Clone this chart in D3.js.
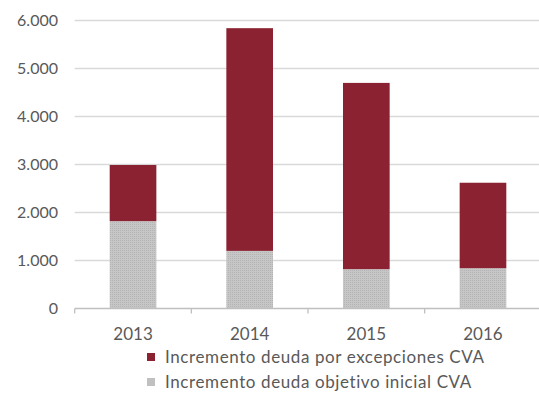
<!DOCTYPE html>
<html>
<head>
<meta charset="utf-8">
<script src="https://cdn.jsdelivr.net/npm/d3@7"></script>
<style>
  body { margin: 0; background: #fff; }
  text { font-family: Lato, "DejaVu Sans", sans-serif; fill: #595959; }
</style>
</head>
<body>
<svg id="chart" width="539" height="409"></svg>
<script>
// chart data
var years = ["2013", "2014", "2015", "2016"];
var objetivoInicial = [1820, 1200, 820, 840];      // gray, bottom
var excepciones = [1170, 4640, 3880, 1780];        // red, top
var yTicks = [0, 1000, 2000, 3000, 4000, 5000, 6000];
var seriesNames = ["Incremento deuda por excepciones CVA", "Incremento deuda objetivo inicial CVA"];

var red = "#8b2231", gray = "#c0c0c0";

var svg = d3.select("#chart");

// dotted texture for the gray series
var pat = svg.append("defs").append("pattern")
    .attr("id", "dots").attr("patternUnits", "userSpaceOnUse")
    .attr("width", 2).attr("height", 2);
pat.append("rect").attr("width", 2).attr("height", 2).attr("fill", "#c6c6c6");
pat.append("rect").attr("width", 1).attr("height", 1).attr("fill", "#b4b4b4");

var x = d3.scaleBand().domain(years).range([74.7, 541.3]).paddingInner(0.6).paddingOuter(0.3);
var y = d3.scaleLinear().domain([0, 6000]).range([308.5, 20.5]);

var fmt = function (d) { return d3.format(",")(d).replace(/,/g, "."); };

// gridlines
svg.append("g").selectAll("line")
    .data(yTicks.filter(d => d > 0))
    .enter().append("line")
    .attr("x1", 74.7).attr("x2", 539)
    .attr("y1", d => y(d)).attr("y2", d => y(d))
    .attr("stroke", "#d9d9d9").attr("stroke-width", 1.3);

// y labels
svg.append("g").selectAll("text")
    .data(yTicks)
    .enter().append("text")
    .attr("x", 58).attr("y", d => y(d))
    .attr("dy", "0.35em")
    .attr("text-anchor", "end")
    .style("font-size", "16px")
    .text(fmt);

// stacked bars
var rows = years.map((yr, i) => ({ year: yr, base: objetivoInicial[i], extra: excepciones[i] }));

svg.append("g").selectAll("rect")
    .data(rows)
    .enter().append("rect")
    .attr("x", d => x(d.year)).attr("width", x.bandwidth())
    .attr("y", d => y(d.base)).attr("height", d => y(0) - y(d.base))
    .attr("fill", "url(#dots)");

svg.append("g").selectAll("rect")
    .data(rows)
    .enter().append("rect")
    .attr("x", d => x(d.year)).attr("width", x.bandwidth())
    .attr("y", d => y(d.base + d.extra)).attr("height", d => y(d.base) - y(d.base + d.extra))
    .attr("fill", red);

// x axis
var xAxis = svg.append("g").attr("transform", "translate(0," + y(0) + ")");
xAxis.append("line").attr("x1", 74.7).attr("x2", 539).attr("stroke", "#bfbfbf").attr("stroke-width", 1.3);
xAxis.selectAll("line.tick")
    .data(d3.range(years.length + 1))
    .enter().append("line")
    .attr("class", "tick")
    .attr("x1", i => 74.7 + i * (541.3 - 74.7) / years.length)
    .attr("x2", i => 74.7 + i * (541.3 - 74.7) / years.length)
    .attr("y1", 0).attr("y2", 5)
    .attr("stroke", "#bfbfbf").attr("stroke-width", 1.3);
xAxis.selectAll("text")
    .data(years)
    .enter().append("text")
    .attr("x", d => x(d) + x.bandwidth() / 2)
    .attr("y", 31)
    .attr("text-anchor", "middle")
    .style("font-size", "17px")
    .text(d => d);

// legend
var legend = svg.append("g");
[red, gray].forEach(function (c, i) {
    var ly = 357 + i * 25;
    legend.append("rect").attr("x", 147).attr("y", ly - 4).attr("width", 8).attr("height", 8).attr("fill", c);
    legend.append("text").attr("x", 165).attr("y", ly).attr("dy", "0.35em")
        .style("font-size", "17px").style("letter-spacing", "0.6px").text(seriesNames[i]);
});
</script>
</body>
</html>
